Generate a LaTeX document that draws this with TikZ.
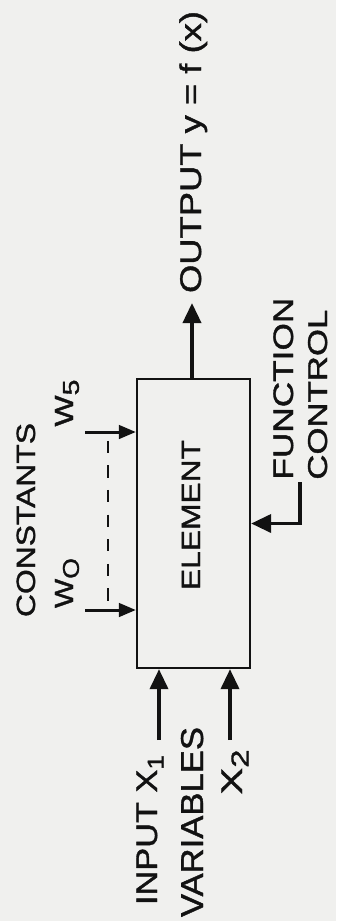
\documentclass[tikz,border=0pt]{standalone}
\usepackage{fontspec}
\setmainfont[FakeBold=1.2,BoldFont=Liberation Sans,BoldFeatures={FakeBold=1.2}]{Liberation Sans}
\usepackage{graphicx}
\usetikzlibrary{arrows.meta}
\newdimen\pxu \pxu=0.02cm
\newcommand{\fitw}[2]{\resizebox{#1\pxu}{\height}{#2}}
\newcommand{\fs}[1]{\fontsize{#1}{#1}\selectfont}
\newcommand{\subsc}[2]{\raisebox{-0.22em}{\fs{#1}#2}}
\definecolor{bg}{RGB}{240,240,238}
\definecolor{ink}{RGB}{18,18,18}
\tikzset{
  lbl/.style={rotate=90, inner sep=0pt, text=ink},
  bigarrow/.style={draw=ink, line width=2.1pt, -{Triangle[length=0.4cm,width=0.36cm]}},
  smallarrow/.style={draw=ink, line width=1.7pt, -{Triangle[length=0.34cm,width=0.27cm]}},
  boxstyle/.style={draw=ink, line width=1.3pt, minimum width=113\pxu, minimum height=289\pxu, inner sep=0pt},
  dashline/.style={draw=ink, line width=1.1pt, dash pattern=on 7pt off 7pt, dash phase=-5pt}
}
\begin{document}
\begin{tikzpicture}[x=0.02cm, y=-0.02cm]
\fill[bg] (0,0) rectangle (336,921);
\useasboundingbox (0,0) rectangle (336,921);

% element box
\node[boxstyle] (elem) at (193.5,523.5) {};
\node[lbl, anchor=base] (elemtxt) at (200,515) {\fitw{150}{\fs{15}ELEMENT}};

% output
\coordinate (outtip) at (192,303);
\draw[bigarrow] (elem.north -| outtip) -- (outtip);
\node[lbl, anchor=base] (outtxt) at (201,152) {\fitw{282}{\fs{17}OUTPUT y = f (x)}};

% constants
\coordinate (w5tail) at (85,432);
\coordinate (w0tail) at (85,610);
\coordinate (w5d) at (108,432);
\coordinate (w0d) at (108,610);
\draw[smallarrow] (w5tail) -- (w5tail -| elem.west);
\draw[smallarrow] (w0tail) -- (w0tail -| elem.west);
\draw[dashline] (w5d) -- (w0d);
\node[lbl, anchor=base] (consttxt) at (35,520) {\fitw{194}{\fs{15}CONSTANTS}};
\node[lbl] (w5txt) at (67,403) {\fitw{47}{\fs{15}W\subsc{13}{5}}};
\node[lbl] (w0txt) at (67,583) {\fitw{50}{\fs{15}W\subsc{13}{O}}};

% function control
\coordinate (fc) at (300,482);
\draw[bigarrow] (fc) |- (elem.east);
\node[lbl, anchor=base west] (functxt) at (293,480) {\fitw{182}{\fs{16}FUNCTION}};
\node[lbl, anchor=base west] (ctrltxt) at (327,480) {\fitw{170}{\fs{15.5}CONTROL}};

% input variables
\coordinate (x1tail) at (159,740);
\coordinate (x2tail) at (230,740);
\draw[bigarrow] (x1tail) -- (x1tail |- elem.south);
\draw[bigarrow] (x2tail) -- (x2tail |- elem.south);
\node[lbl, anchor=base] (inputtxt) at (157,830) {\fitw{150}{\fs{17}INPUT X\subsc{13}{1}}};
\node[lbl, anchor=base] (vartxt) at (203,822) {\fitw{190}{\fs{18}VARIABLES}};
\node[lbl, anchor=base] (x2txt) at (242,772) {\fitw{45}{\fs{17}X\subsc{14}{2}}};
\end{tikzpicture}
\end{document}
